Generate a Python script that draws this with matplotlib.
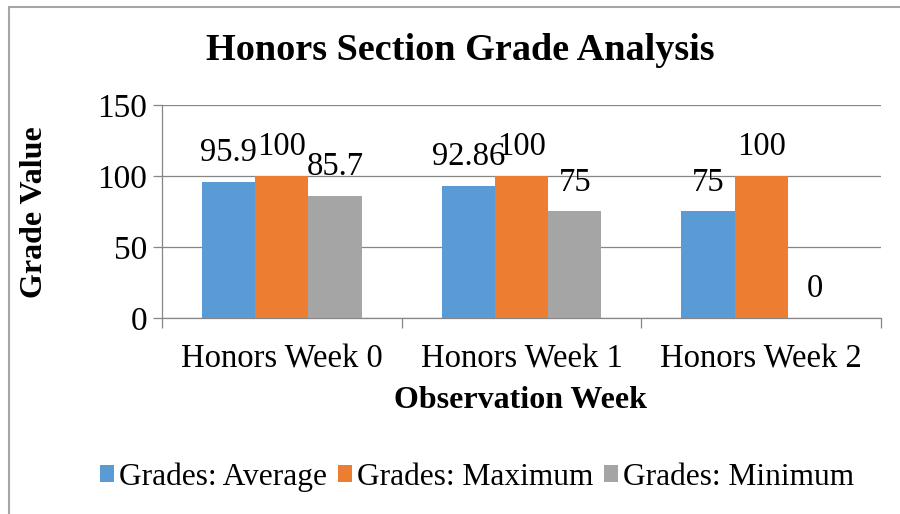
import matplotlib.pyplot as plt
from matplotlib.patches import Rectangle
import numpy as np

weeks = ['Honors Week 0', 'Honors Week 1', 'Honors Week 2']
series_names = ['Grades: Average', 'Grades: Maximum', 'Grades: Minimum']
avg = [95.9, 92.86, 75]
mx = [100, 100, 100]
mn = [85.7, 75, 0]
avg_lbl = ['95.9', '92.86', '75']
mx_lbl = ['100', '100', '100']
mn_lbl = ['85.7', '75', '0']
colors = ['#5B9BD5', '#ED7D31', '#A5A5A5']

plt.rcParams['font.family'] = ['Liberation Serif', 'DejaVu Serif']

fig = plt.figure(figsize=(9, 5.14), dpi=100)
ax = fig.add_axes([162/900, 1-318/514, (881-162)/900, (318-105)/514])

# chart border (Excel chart area)
fig.patches.append(Rectangle((8.5/900, -0.1), 1.2, 1.1-7/514, transform=fig.transFigure,
                             fill=False, edgecolor='#A6A6A6', linewidth=1.5))

x = np.arange(len(weeks))
w = 1/4.5
gridc = '#868686'
for i, (vals, lbls) in enumerate([(avg, avg_lbl), (mx, mx_lbl), (mn, mn_lbl)]):
    pos = x + (i-1)*w
    ax.bar(pos, vals, width=w, color=colors[i], label=series_names[i], zorder=3)
    for p, v, t in zip(pos, vals, lbls):
        ax.annotate(t, (p, v), xytext=(0, 21), textcoords='offset points',
                    ha='center', va='center', fontsize=23.5, zorder=4)

ax.set_ylim(0, 150)
ax.set_xlim(-0.5, 2.5)
ax.set_yticks([0, 50, 100, 150])
ax.grid(axis='y', color=gridc, linewidth=0.9, zorder=0)
ax.set_xticks([-0.5, 0.5, 1.5, 2.5])
ax.set_xticklabels([])
ax.set_xticks(x, minor=True)
ax.set_xticklabels(weeks, minor=True)
ax.tick_params(axis='x', which='major', length=7.5, color=gridc, width=0.9)
ax.tick_params(axis='x', which='minor', length=0, labelsize=23.5, pad=19)
ax.tick_params(axis='y', length=6.5, color=gridc, width=0.9, labelsize=24, pad=4)
for s in ['top', 'right']:
    ax.spines[s].set_visible(False)
for s in ['left', 'bottom']:
    ax.spines[s].set_color(gridc)
    ax.spines[s].set_linewidth(0.9)

fig.text(35/900, 1-212/514, 'Grade Value', fontsize=23, fontweight='bold',
         rotation=90, ha='center', va='center')
fig.text(521/900, 1-401/514, 'Observation Week', fontsize=23, fontweight='bold',
         ha='center', va='center')
fig.text(460/900, 1-50/514, 'Honors Section Grade Analysis', fontsize=27.5,
         fontweight='bold', ha='center', va='center')

fig.legend(loc='center', bbox_to_anchor=(477/900, 1-477/514), ncol=3, frameon=False,
           fontsize=22.6, handlelength=0.45, handleheight=0.45, handletextpad=0.15,
           columnspacing=0.35)

fig.savefig('out.png', dpi=100)
